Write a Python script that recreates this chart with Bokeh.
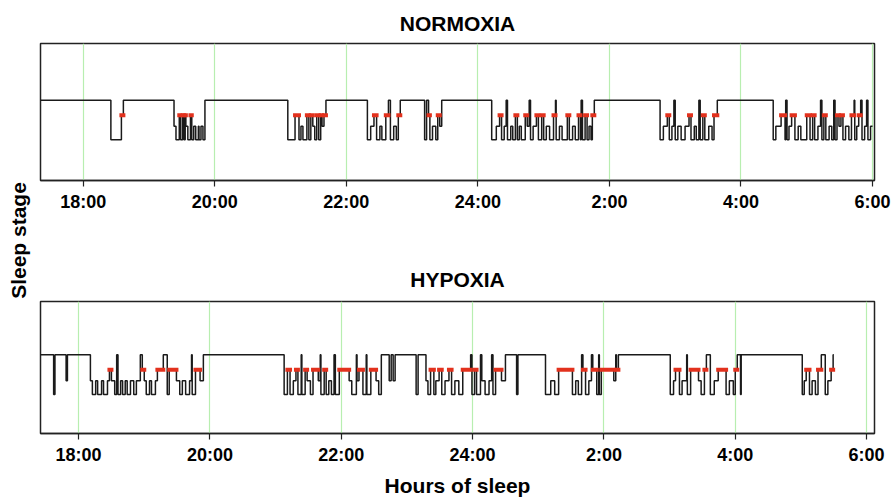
import math
from bokeh.plotting import figure
from bokeh.models import Range1d, FixedTicker, Label
from bokeh.layouts import row, column
from bokeh.embed import file_html
from bokeh.resources import INLINE

# ---------------- data ----------------
TICKS = [18, 20, 22, 24, 26, 28, 30]
TICK_LABELS = ["18:00", "20:00", "22:00", "24:00", "2:00", "4:00", "6:00"]

# stage onset times (clock hours, >24 = after midnight) and stage codes
NORMOXIA_T = [
    17.35, 18.42, 18.58, 18.61, 19.38, 19.41, 19.46, 19.48, 19.51, 19.53, 19.55, 19.56, 19.59, 19.63, 19.65,
    19.68, 19.71, 19.75, 19.76, 19.79, 19.82, 19.85,
    21.11, 21.22, 21.28, 21.31, 21.34, 21.40, 21.43, 21.46, 21.49, 21.52, 21.55, 21.58, 21.61, 21.63, 21.66, 21.69,
    22.32, 22.37, 22.42, 22.46, 22.51, 22.54, 22.60, 22.64, 22.67, 22.72, 22.76, 22.79, 22.82,
    23.19, 23.22, 23.25, 23.27, 23.31, 23.36, 23.39, 23.42, 23.45,
    24.21, 24.28, 24.33, 24.36, 24.40, 24.43, 24.45, 24.50, 24.53, 24.57, 24.60, 24.63, 24.66, 24.72, 24.75,
    24.78, 24.80, 24.84, 24.89, 24.92, 24.97, 25.00, 25.04, 25.09, 25.15, 25.18, 25.19, 25.24, 25.28, 25.36,
    25.39, 25.44, 25.48, 25.53, 25.56, 25.57, 25.59, 25.63, 25.66, 25.69, 25.72, 25.74, 25.77,
    26.77, 26.82, 26.88, 26.91, 26.95, 26.98, 27.00, 27.04, 27.09, 27.15, 27.21, 27.24, 27.29, 27.32, 27.36,
    27.38, 27.42, 27.45, 27.51, 27.56, 27.59, 27.64,
    28.49, 28.53, 28.61, 28.67, 28.68, 28.70, 28.73, 28.77, 28.82, 28.87, 28.91, 29.00, 29.05, 29.09, 29.12,
    29.17, 29.21, 29.23, 29.26, 29.29, 29.34, 29.38, 29.41, 29.43, 29.46, 29.49, 29.52, 29.55, 29.59, 29.64,
    29.68, 29.72, 29.73, 29.76, 29.79, 29.82, 29.84, 29.88, 29.91, 29.93, 29.97,
]
NORMOXIA_S = [
    "W", "N2", "R", "W", "N1", "N2", "R", "N2", "R", "N2", "R", "N1", "N2", "R", "N2",
    "N1", "N2", "N1", "N2", "N1", "N2", "W",
    "N2", "R", "N2", "N1", "N2", "R", "N2", "R", "N1", "N2", "R", "N2", "R", "N1", "R", "W",
    "N2", "N1", "R", "N2", "N1", "N2", "R", "W", "N2", "N1", "N2", "R", "W",
    "N2", "W", "R", "N2", "N1", "N2", "R", "N1", "W",
    "N2", "N1", "R", "N2", "N1", "W", "N2", "N1", "N2", "R", "N2", "N1", "N2", "R", "N1",
    "W", "N2", "N1", "R", "N2", "R", "N2", "N1", "N2", "R", "W", "N2", "N1", "N2", "R",
    "N2", "N1", "N2", "R", "N2", "W", "N2", "R", "N2", "N1", "N2", "R", "W",
    "N2", "N1", "R", "N2", "N1", "W", "N2", "N1", "N2", "N1", "R", "N2", "N1", "N2", "W",
    "N2", "R", "N2", "N1", "N2", "R", "W",
    "N2", "N1", "R", "N2", "W", "N2", "N1", "R", "N2", "N1", "N2", "R", "N2", "R", "N2",
    "N1", "W", "N2", "R", "N2", "N1", "N2", "W", "N2", "R", "N1", "R", "N2", "N1", "N2",
    "R", "W", "N2", "N1", "R", "W", "N2", "N1", "W", "N2", "N1",
]
NORMOXIA_END = 30.00

HYPOXIA_T = [
    17.42, 17.62, 17.64, 17.81, 17.83,
    18.18, 18.21, 18.26, 18.29, 18.35, 18.38, 18.44, 18.47, 18.50, 18.55, 18.58, 18.60, 18.64, 18.67, 18.71,
    18.74, 18.79, 18.84, 18.88, 18.94, 18.97, 19.00, 19.03, 19.08, 19.11, 19.17, 19.20, 19.29, 19.35, 19.38,
    19.49, 19.54, 19.58, 19.63, 19.69, 19.72, 19.73, 19.78, 19.85, 19.90,
    21.13, 21.18, 21.22, 21.27, 21.31, 21.34, 21.39, 21.40, 21.45, 21.48, 21.53, 21.57, 21.65, 21.68, 21.69,
    21.74, 21.77, 21.81, 21.85, 21.89, 21.91, 21.97, 22.12, 22.16, 22.23, 22.24, 22.27, 22.33, 22.38, 22.39,
    22.45, 22.53, 22.57, 22.61, 22.73, 22.76, 22.79, 22.82,
    23.14, 23.17, 23.29, 23.32, 23.36, 23.41, 23.44, 23.49, 23.53, 23.58, 23.64, 23.68, 23.73, 23.79, 23.85,
    23.97, 23.99, 24.03, 24.06, 24.12, 24.14, 24.19, 24.25, 24.29, 24.31, 24.35, 24.44, 24.50, 24.67, 24.69,
    25.11, 25.19, 25.25, 25.31, 25.52, 25.57, 25.61, 25.66, 25.68, 25.72, 25.77, 25.81, 25.83, 25.89, 25.92,
    25.93, 25.96, 26.15, 26.18, 26.19, 26.22,
    27.01, 27.06, 27.09, 27.15, 27.19, 27.26, 27.27, 27.32, 27.44, 27.48, 27.53, 27.56, 27.62, 27.68, 27.74,
    27.86, 27.91, 27.97, 28.00, 28.03, 28.08, 28.09,
    29.02, 29.05, 29.08, 29.13, 29.17, 29.22, 29.26, 29.31, 29.37, 29.41, 29.46, 29.49,
]
HYPOXIA_S = [
    "W", "N2", "W", "N1", "W",
    "N1", "N2", "N1", "N2", "N1", "N2", "N1", "R", "N1", "N2", "W", "N2", "N1", "N2", "N1",
    "N2", "N1", "N2", "N1", "W", "R", "N1", "N2", "N1", "N2", "N1", "R", "W", "N2", "R",
    "N1", "N2", "N1", "N2", "N1", "W", "N2", "R", "N1", "W",
    "N2", "R", "N2", "N1", "R", "N2", "W", "N2", "R", "N1", "N2", "R", "N1", "W", "N2",
    "R", "N2", "N1", "N2", "W", "N2", "R", "N1", "N2", "W", "N1", "R", "N2", "W", "N2",
    "R", "N1", "N2", "W", "N1", "W", "N1", "W",
    "N2", "W", "N1", "N2", "R", "N2", "N1", "R", "N2", "N1", "R", "N2", "N1", "N2", "R",
    "W", "N2", "R", "N2", "W", "N1", "N2", "N1", "W", "N2", "R", "N1", "W", "N2", "W",
    "N2", "N1", "N2", "R", "N2", "N1", "N2", "W", "R", "N2", "N1", "W", "R", "N2", "W",
    "N2", "R", "N1", "W", "R", "W",
    "N2", "N1", "R", "N2", "N1", "W", "N2", "R", "N1", "N2", "R", "W", "N2", "N1", "R",
    "N2", "N1", "N2", "R", "W", "N2", "W",
    "N2", "N1", "R", "N2", "N1", "N2", "R", "W", "N2", "N1", "R", "W",
]
HYPOXIA_END = 29.50

# ---------------- styling ----------------
STAGE_LEVEL = {"W": 5.85, "R": 4.76, "N1": 3.96, "N2": 2.97}
FONT = "Liberation Sans"
LINE_COLOR = "#1a1a1a"
REM_COLOR = "#e2311d"
GRID_COLOR = "#b8eeb0"


def step_xy(ts, ss, end):
    xs, ys = [], []
    bounds = list(ts[1:]) + [end]
    for t0, t1, s in zip(ts, bounds, ss):
        xs += [t0, t1]
        ys += [STAGE_LEVEL[s], STAGE_LEVEL[s]]
    return xs, ys


def rem_segments(ts, ss, end):
    bounds = list(ts[1:]) + [end]
    x0, x1 = [], []
    for t0, t1, s in zip(ts, bounds, ss):
        if s == "R":
            x0.append(t0)
            x1.append(t1)
    return x0, x1


def make_panel(title, ts, ss, end, xr, yr, width, height, bl, br, bt, bb, standoff, xlabel=None):
    p = figure(width=width, height=height, x_range=Range1d(*xr), y_range=Range1d(*yr),
               output_backend="svg", toolbar_location=None,
               min_border_left=bl, min_border_right=br, min_border_top=bt, min_border_bottom=bb,
               background_fill_color="white", border_fill_color="white")
    p.title.text = title
    p.title.align = "center"
    p.title.text_font = FONT
    p.title.text_font_style = "bold"
    p.title.text_font_size = "21px"
    p.title.text_color = "black"
    p.title.standoff = standoff
    p.outline_line_color = "#222222"
    p.outline_line_width = 1.5
    p.yaxis.visible = False
    p.ygrid.visible = False
    ticker = FixedTicker(ticks=TICKS, minor_ticks=[])
    p.xaxis.ticker = ticker
    p.xaxis.major_label_overrides = {t: lab for t, lab in zip(TICKS, TICK_LABELS)}
    p.xaxis.major_label_text_font = FONT
    p.xaxis.major_label_text_font_style = "bold"
    p.xaxis.major_label_text_font_size = "18px"
    p.xaxis.major_label_text_color = "black"
    p.xaxis.major_tick_in = 0
    p.xaxis.major_tick_out = 6
    p.xaxis.major_tick_line_color = "#222222"
    p.xaxis.major_tick_line_width = 1.2
    p.xaxis.axis_line_color = "#222222"
    p.xaxis.axis_line_width = 1.5
    p.xaxis.major_label_standoff = 5
    if xlabel:
        p.xaxis.axis_label = xlabel
        p.xaxis.axis_label_text_font = FONT
        p.xaxis.axis_label_text_font_style = "bold"
        p.xaxis.axis_label_text_font_size = "21px"
        p.xaxis.axis_label_text_color = "black"
        p.xaxis.axis_label_standoff = 6
    p.xgrid.ticker = ticker
    p.xgrid.grid_line_color = GRID_COLOR
    p.xgrid.grid_line_width = 1.2

    xs, ys = step_xy(ts, ss, end)
    p.line(xs, ys, line_color=LINE_COLOR, line_width=1.5)
    x0, x1 = rem_segments(ts, ss, end)
    lvl = STAGE_LEVEL["R"]
    p.segment(x0=x0, x1=x1, y0=[lvl] * len(x0), y1=[lvl] * len(x0),
              line_color=REM_COLOR, line_width=4, line_cap="square")
    return p


LEFT_W = 34
top = make_panel("NORMOXIA", NORMOXIA_T, NORMOXIA_S, NORMOXIA_END,
                 (17.35, 30.03), (0, 10), 896 - LEFT_W, 250, 1, 22, 42, 70, 18)
bottom = make_panel("HYPOXIA", HYPOXIA_T, HYPOXIA_S, HYPOXIA_END,
                    (17.42, 30.12), (0.16, 9.69), 896 - LEFT_W, 249, 6, 20, 51, 64, 21,
                    xlabel="Hours of sleep")

left = figure(width=LEFT_W, height=499, x_range=Range1d(0, 1), y_range=Range1d(0, 1),
              output_backend="svg", toolbar_location=None, min_border=0,
              background_fill_color="white", border_fill_color="white")
left.axis.visible = False
left.grid.visible = False
left.outline_line_color = None
left.add_layout(Label(x=18 / LEFT_W, y=(499 - 240) / 499, text="Sleep stage", angle=math.pi / 2,
                      text_align="center", text_baseline="middle", text_font=FONT,
                      text_font_style="bold", text_font_size="21px", text_color="black"))

layout = row(left, column(top, bottom))
open("out.html", "w").write(file_html(layout, INLINE))
